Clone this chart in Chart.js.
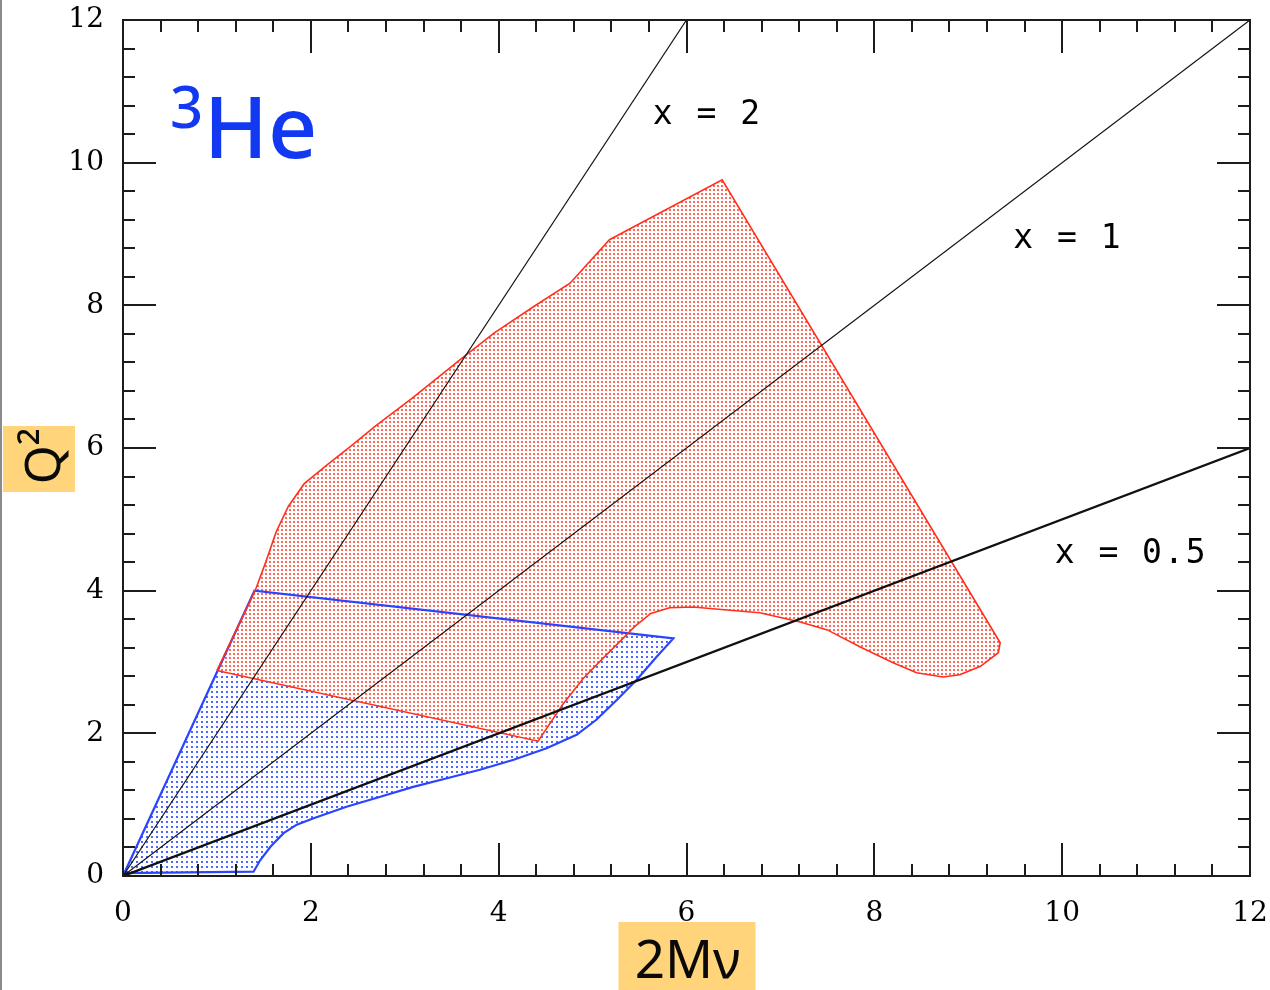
<!DOCTYPE html>
<html>
<head>
<meta charset="utf-8">
<script src="https://cdn.jsdelivr.net/npm/chart.js@4.4.1/dist/chart.umd.min.js"></script>
<style>
  html, body { margin: 0; padding: 0; background: #fff; }
  #wrap { position: relative; width: 1270px; height: 990px; overflow: hidden; }
  #edge { position: absolute; left: 0; top: 0; width: 2px; height: 990px; background: #8a8a8a; }
</style>
</head>
<body>
<div id="wrap">
  <canvas id="kin" width="1270" height="990"></canvas>
  <div id="edge"></div>
</div>
<script>
// ---- axis ranges and tick steps -------------------------------------------
const axisMin = 0;
const axisMax = 12;
const majorStep = 2;
const minorStep = 0.4;

// ---- constant-x lines (Q^2 = x * 2M nu) from the origin to the frame ------
const scalingNames = ['x = 2', 'x = 1', 'x = 0.5'];
const scalingEndX  = [6, 12, 12];
const scalingEndY  = [12, 12, 6];
const scalingWidth = [1.2, 1.2, 2.4];

// ---- kinematic coverage, red region (outline, counter-clockwise) ----------
const redX = [1.00, 1.41, 1.52, 1.63, 1.76, 1.93, 2.19, 2.43, 2.69, 3.08, 3.61, 3.95,
              4.37, 4.76, 5.18, 5.75, 6.38, 9.34, 9.32, 9.13, 8.91, 8.73, 8.45, 8.20,
              7.85, 7.50, 7.21, 6.78, 6.43, 6.07, 5.82, 5.62, 5.45, 5.30, 5.11, 4.90,
              4.68, 4.42];
const redY = [2.88, 4.01, 4.40, 4.82, 5.18, 5.50, 5.78, 6.03, 6.31, 6.70, 7.26, 7.61,
              7.98, 8.31, 8.92, 9.32, 9.76, 3.27, 3.13, 2.94, 2.82, 2.79, 2.85, 2.99,
              3.21, 3.45, 3.56, 3.69, 3.73, 3.77, 3.76, 3.68, 3.50, 3.30, 3.05, 2.77,
              2.40, 1.89];

// ---- kinematic coverage, blue region --------------------------------------
const blueX = [0.00, 1.40, 5.86, 5.68, 5.47, 5.26, 5.04, 4.83, 4.51, 4.16, 3.80, 3.45,
               3.09, 2.74, 2.38, 2.03, 1.85, 1.71, 1.57, 1.46, 1.39, 0.00];
const blueY = [0.00, 4.00, 3.33, 3.07, 2.75, 2.47, 2.19, 1.98, 1.79, 1.63, 1.49, 1.37,
               1.25, 1.11, 0.97, 0.81, 0.72, 0.60, 0.41, 0.22, 0.06, 0.04];

// ---- where the line names sit (2M nu, Q^2 of the text's left baseline) ----
const scalingLabelAt = [[5.64, 10.54], [9.48, 8.80], [9.92, 4.39]];

function closedPoints(xs, ys) {
  const pts = xs.map((v, i) => ({ x: v, y: ys[i] }));
  pts.push({ x: xs[0], y: ys[0] });
  return pts;
}

const canvas = document.getElementById('kin');
const ctx0 = canvas.getContext('2d');

// white cell with a single coloured dot, tiled as the region fill
function dotPattern(cell, dot, color) {
  const c = document.createElement('canvas');
  c.width = cell; c.height = cell;
  const g = c.getContext('2d');
  g.fillStyle = '#ffffff';
  g.fillRect(0, 0, cell, cell);
  g.fillStyle = color;
  g.fillRect(1, 1, dot, dot);
  return ctx0.createPattern(c, 'repeat');
}

const redDots = dotPattern(4, 2, 'rgb(255,105,85)');
const blueDots = dotPattern(5, 2, 'rgb(75,105,255)');

// fills the dotted regions (blue first, red over it) before any outline is stroked
const regionFill = {
  id: 'regionFill',
  beforeDatasetsDraw(chart) {
    const { ctx, chartArea: a } = chart;
    ctx.save();
    ctx.beginPath();
    ctx.rect(a.left, a.top, a.right - a.left, a.bottom - a.top);
    ctx.clip();
    const idx = chart.data.datasets.map((d, i) => i).filter(i => chart.data.datasets[i].dots).reverse();
    for (const i of idx) {
      const line = chart.getDatasetMeta(i).dataset;
      ctx.beginPath();
      line.path(ctx);
      ctx.closePath();
      ctx.fillStyle = chart.data.datasets[i].dots;
      ctx.fill();
    }
    ctx.restore();
  }
};

// boxed frame with inward major/minor ticks on all four sides
const frameTicks = {
  id: 'frameTicks',
  afterDatasetsDraw(chart) {
    const { ctx, chartArea: a, scales: { x, y } } = chart;
    const majorLen = 33, minorLen = 12;
    ctx.save();
    ctx.strokeStyle = '#1c1c1c';
    ctx.lineWidth = 2;
    ctx.beginPath();
    ctx.rect(a.left, a.top, a.right - a.left, a.bottom - a.top);
    ctx.stroke();
    ctx.beginPath();
    const n = Math.round((axisMax - axisMin) / minorStep);
    for (let k = 0; k <= n; k++) {
      const v = axisMin + k * minorStep;
      const r = v / majorStep;
      const len = Math.abs(r - Math.round(r)) < 1e-6 ? majorLen : minorLen;
      const px = Math.round(x.getPixelForValue(v));
      ctx.moveTo(px, a.bottom); ctx.lineTo(px, a.bottom - len);
      ctx.moveTo(px, a.top);    ctx.lineTo(px, a.top + len);
      const py = Math.round(y.getPixelForValue(v));
      ctx.moveTo(a.left, py);  ctx.lineTo(a.left + len, py);
      ctx.moveTo(a.right, py); ctx.lineTo(a.right - len, py);
    }
    ctx.stroke();
    ctx.restore();
  }
};

// line names, nucleus tag and the two boxed axis titles
const annotations = {
  id: 'annotations',
  afterDraw(chart) {
    const { ctx, chartArea: a, scales: { x, y } } = chart;
    ctx.save();

    ctx.fillStyle = '#000000';
    ctx.font = '33px "DejaVu Sans Mono"';
    ctx.letterSpacing = '2px';
    ctx.textAlign = 'left';
    ctx.textBaseline = 'alphabetic';
    scalingNames.forEach((t, i) => {
      const [vx, vy] = scalingLabelAt[i];
      ctx.fillText(t, x.getPixelForValue(vx), y.getPixelForValue(vy));
    });
    ctx.letterSpacing = '0px';

    // nucleus tag
    ctx.fillStyle = '#1238f2';
    ctx.font = '500 58px "Noto Sans"';
    ctx.fillText('3', x.getPixelForValue(0.50), y.getPixelForValue(10.49));
    ctx.font = '500 86px "Noto Sans"';
    ctx.fillText('He', x.getPixelForValue(0.86), y.getPixelForValue(10.07));

    // axis titles on orange boxes
    const cx = (a.left + a.right) / 2;
    ctx.fillStyle = '#ffd47a';
    ctx.fillRect(cx - 68, 922, 137, 68);
    ctx.fillRect(3, 426, 72, 66);

    ctx.fillStyle = '#0a0a0a';
    ctx.textAlign = 'center';
    ctx.font = '53px "Noto Sans"';
    ctx.fillText('2M\u03BD', cx + 1, 978);

    ctx.translate(60, 456);
    ctx.rotate(-Math.PI / 2);
    ctx.font = '50px "Noto Sans"';
    ctx.fillText('Q\u00B2', 0, 0);

    ctx.restore();
  }
};

const datasets = [];
scalingNames.forEach((name, i) => {
  datasets.push({
    label: name,
    data: [{ x: 0, y: 0 }, { x: scalingEndX[i], y: scalingEndY[i] }],
    borderColor: '#111111',
    borderWidth: scalingWidth[i],
    pointRadius: 0,
    fill: false
  });
});
datasets.push({
  label: 'red region',
  data: closedPoints(redX, redY),
  borderColor: '#ff3020',
  borderWidth: 1.6,
  pointRadius: 0,
  fill: false,
  dots: redDots
});
datasets.push({
  label: 'blue region',
  data: closedPoints(blueX, blueY),
  borderColor: '#2a44ff',
  borderWidth: 2.2,
  pointRadius: 0,
  fill: false,
  dots: blueDots
});

const tickFont = { family: '"DejaVu Serif"', size: 28 };

new Chart(canvas, {
  type: 'line',
  data: { datasets },
  options: {
    responsive: false,
    animation: false,
    events: [],
    layout: { padding: { left: 0, top: 20, right: 20, bottom: 0 } },
    elements: { line: { tension: 0 } },
    plugins: { legend: { display: false }, tooltip: { enabled: false } },
    scales: {
      x: {
        type: 'linear',
        min: axisMin, max: axisMax,
        grid: { display: false },
        border: { display: false },
        ticks: { stepSize: majorStep, font: tickFont, color: '#000', padding: 13, maxRotation: 0 },
        afterFit(s) { s.height = 114; s.paddingLeft = 0; s.paddingRight = 0; }
      },
      y: {
        type: 'linear',
        min: axisMin, max: axisMax,
        grid: { display: false },
        border: { display: false },
        ticks: { stepSize: majorStep, font: tickFont, color: '#000', padding: 11 },
        afterFit(s) { s.width = 123; s.paddingTop = 0; s.paddingBottom = 0; }
      }
    }
  },
  plugins: [regionFill, frameTicks, annotations]
});
</script>
</body>
</html>
